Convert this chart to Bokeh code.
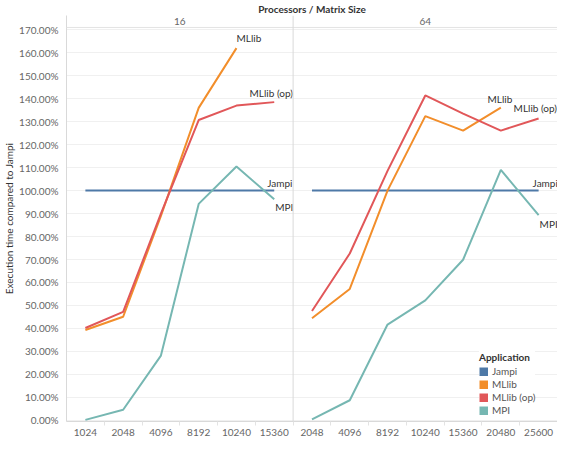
from bokeh.plotting import figure
from bokeh.models import (Range1d, ColumnDataSource, FixedTicker, NumeralTickFormatter,
                          Span, Label, Legend, LegendItem)
from bokeh.embed import file_html
from bokeh.resources import INLINE
from bokeh.core.properties import value

# ---------------- data ----------------
processors = ["16", "64"]
sizes_16 = ["1024", "2048", "4096", "8192", "10240", "15360"]
sizes_64 = ["2048", "4096", "8192", "10240", "15360", "20480", "25600"]

jampi_16 = [1.0, 1.0, 1.0, 1.0, 1.0, 1.0]
mllib_16 = [0.393, 0.451, 0.89, 1.36, 1.62]
mllib_op_16 = [0.402, 0.472, 0.90, 1.307, 1.37, 1.385]
mpi_16 = [0.002, 0.046, 0.282, 0.942, 1.105, 0.962]

jampi_64 = [1.0, 1.0, 1.0, 1.0, 1.0, 1.0, 1.0]
mllib_64 = [0.444, 0.572, 1.0, 1.324, 1.261, 1.361]
mllib_op_64 = [0.476, 0.726, 1.086, 1.414, 1.335, 1.261, 1.314]
mpi_64 = [0.004, 0.0875, 0.417, 0.522, 0.699, 1.09, 0.893]

applications = ["Jampi", "MLlib", "MLlib (op)", "MPI"]
y_ticks = [0.0, 0.1, 0.2, 0.3, 0.4, 0.5, 0.6, 0.7, 0.8, 0.9,
           1.0, 1.1, 1.2, 1.3, 1.4, 1.5, 1.6, 1.7]
title_text = "Processors / Matrix Size"
y_title = "Execution time compared to Jampi"

# ---------------- styles ----------------
FONT = "Lato"
colors = {"Jampi": "#4e79a7", "MLlib": "#f28e2b", "MLlib (op)": "#e15759", "MPI": "#76b7b2"}
series = {
    "16": {"Jampi": jampi_16, "MLlib": mllib_16, "MLlib (op)": mllib_op_16, "MPI": mpi_16},
    "64": {"Jampi": jampi_64, "MLlib": mllib_64, "MLlib (op)": mllib_op_64, "MPI": mpi_64},
}
sizes = {"16": sizes_16, "64": sizes_64}
# end label style: (align, x_offset, y_offset)
label_style = {
    "16": {"MLlib": ("left", 0, -10), "MLlib (op)": ("center", -3, -9),
           "Jampi": ("left", -7, -8), "MPI": ("left", 1, 8)},
    "64": {"MLlib": ("center", -1, -9), "MLlib (op)": ("left", -25, -10),
           "Jampi": ("left", -6, -8), "MPI": ("left", 1, 9)},
}

# panel offsets on a shared category index axis
offset = {"16": 0, "64": len(sizes_16)}
size_labels = [s for pr in processors for s in sizes[pr]]
n_all = len(size_labels)

p = figure(width=557, height=438,
           x_range=Range1d(-0.5, n_all - 0.5),
           y_range=Range1d(-0.005, 1.762),
           output_backend="svg", toolbar_location=None,
           min_border_left=64, min_border_right=0, min_border_top=0, min_border_bottom=0,
           title=title_text)
p.outline_line_color = None
p.background_fill_color = "white"

p.title.align = "center"
p.title.text_font = FONT
p.title.text_font_size = "10px"
p.title.text_font_style = "bold"
p.title.text_color = "#333333"
p.title.standoff = 1

# y axis
p.yaxis.ticker = FixedTicker(ticks=y_ticks)
p.yaxis.formatter = NumeralTickFormatter(format="0.00%")
p.yaxis.axis_label = y_title
p.yaxis.axis_label_text_font = FONT
p.yaxis.axis_label_text_font_size = "10px"
p.yaxis.axis_label_text_font_style = "normal"
p.yaxis.axis_label_text_color = "#333333"
p.yaxis.axis_label_standoff = 1
p.yaxis.major_label_text_font = FONT
p.yaxis.major_label_text_font_size = "10px"
p.yaxis.major_label_text_color = "#666666"
p.yaxis.major_label_standoff = 2
p.yaxis.major_tick_line_color = None
p.yaxis.minor_tick_line_color = None
p.yaxis.axis_line_color = "#d9d9d9"

# x axis: category labels at band centres, small separators at band edges
p.xaxis.ticker = FixedTicker(ticks=list(range(n_all)),
                             minor_ticks=[i + 0.5 for i in range(n_all - 1)])
p.xaxis.major_label_overrides = {i: lab for i, lab in enumerate(size_labels)}
p.xaxis.major_label_text_font = FONT
p.xaxis.major_label_text_font_size = "10px"
p.xaxis.major_label_text_color = "#666666"
p.xaxis.major_label_standoff = 1
p.xaxis.major_tick_line_color = None
p.xaxis.minor_tick_line_color = "#e3e3e3"
p.xaxis.minor_tick_in = 0
p.xaxis.minor_tick_out = 4
p.xaxis.axis_line_color = "#d9d9d9"

p.ygrid.grid_line_color = "#f0f0f0"
p.xgrid.grid_line_color = None

# header line and panel divider
p.add_layout(Span(location=1.71, dimension="width", line_color="#e3e3e3", line_width=1))
p.add_layout(Span(location=offset["64"] - 0.5, dimension="height", line_color="#d9d9d9", line_width=1))

# panel headers
for pr in processors:
    xc = offset[pr] + (len(sizes[pr]) - 1) / 2
    p.add_layout(Label(x=xc, y=1.737, text=pr, text_align="center", text_baseline="middle",
                       text_font=FONT, text_font_size="10px", text_color="#666666"))

# lines
for pr in processors:
    for app in applications:
        vals = series[pr][app]
        src = ColumnDataSource(dict(x=[offset[pr] + i for i in range(len(vals))], y=vals,
                                    size=sizes[pr][:len(vals)]))
        p.line(x="x", y="y", source=src, line_color=colors[app], line_width=2)

# end labels
for pr in processors:
    for app in applications:
        vals = series[pr][app]
        align, xo, yo = label_style[pr][app]
        src = ColumnDataSource(dict(x=[offset[pr] + len(vals) - 1], y=[vals[-1]], t=[app]))
        p.text(x="x", y="y", text="t", source=src, text_align=align, text_baseline="middle",
               x_offset=xo, y_offset=yo, text_font=value(FONT), text_font_size="10px",
               text_color="#333333")

# legend with square swatches (thick hidden line renderers -> square legend glyphs)
items = []
for app in applications:
    vals = series["16"][app]
    src = ColumnDataSource(dict(x=list(range(len(vals))), y=vals))
    r = p.line(x="x", y="y", source=src, line_color=colors[app], line_width=9, line_cap="butt")
    r.visible = False
    items.append(LegendItem(label=app, renderers=[r]))
legend = Legend(items=items, title="Application", location=(413, 5))
legend.title_text_font = FONT
legend.title_text_font_size = "10px"
legend.title_text_font_style = "bold"
legend.title_text_color = "#333333"
legend.title_standoff = 2
legend.label_text_font = FONT
legend.label_text_font_size = "10px"
legend.label_text_color = "#555555"
legend.glyph_width = 9
legend.glyph_height = 9
legend.label_height = 12
legend.label_standoff = 4
legend.spacing = 1
legend.padding = 2
legend.margin = 0
legend.border_line_color = None
legend.background_fill_color = "white"
legend.background_fill_alpha = 1
p.add_layout(legend)

open("out.html", "w").write(file_html(p, INLINE))
